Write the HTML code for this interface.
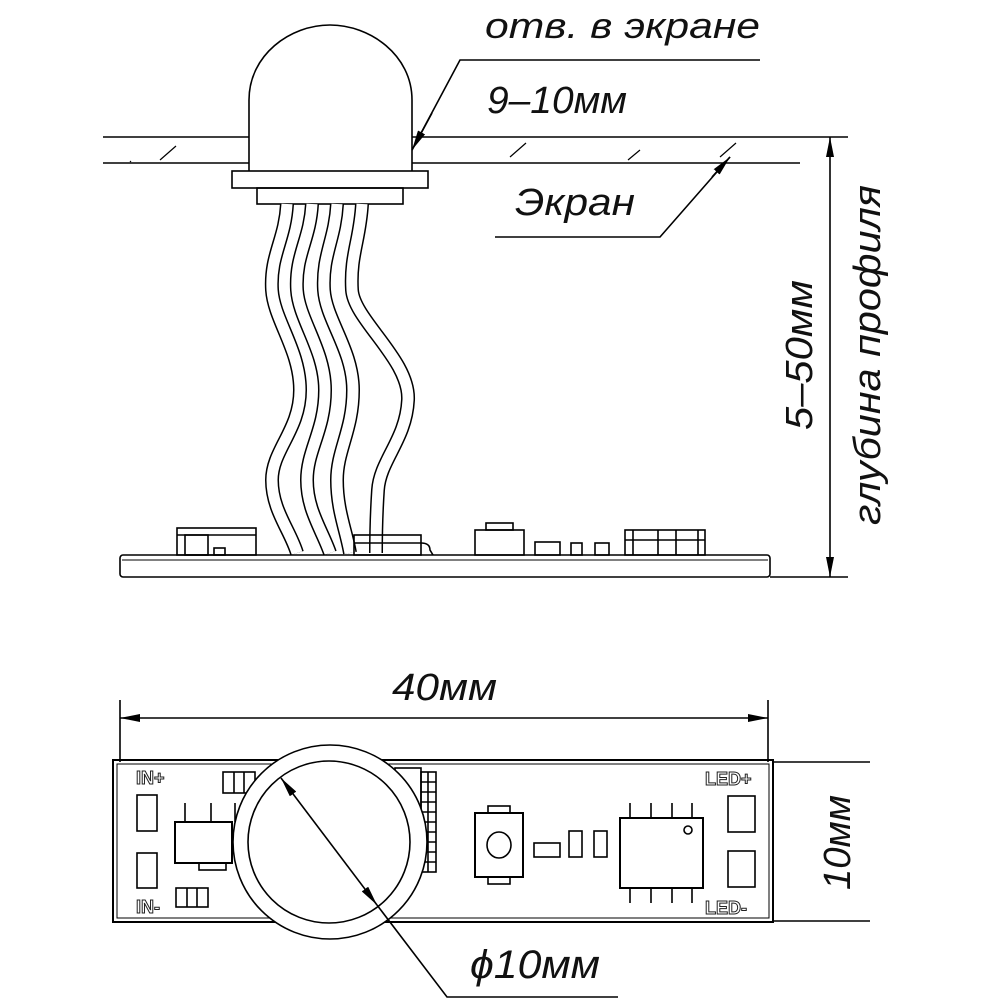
<!DOCTYPE html>
<html><head><meta charset="utf-8"><style>
html,body{margin:0;padding:0;background:#fff}
svg{display:block}
.t{font-family:"Liberation Sans",sans-serif;font-style:italic;fill:#111}
</style></head><body>
<svg width="1000" height="1000" viewBox="0 0 1000 1000" xmlns="http://www.w3.org/2000/svg">
<defs>
<marker id="a" viewBox="0 0 20 8" refX="20" refY="4" markerWidth="20" markerHeight="8" markerUnits="userSpaceOnUse" orient="auto-start-reverse"><path d="M0,0 L20,4 L0,8 z" fill="#000"/></marker>
</defs>
<g fill="none" stroke="#000" stroke-width="1.6">
<line x1="103" y1="137" x2="249" y2="137"/><line x1="412" y1="137" x2="800" y2="137"/>
<line x1="103" y1="163" x2="249" y2="163"/><line x1="412" y1="163" x2="800" y2="163"/>
<path d="M160,160 L176,146 M130,162 L131,161 M510,157 L526,143 M720,157 L736,143 M628,160 L640,150" stroke-width="1.2"/>
<path d="M249,171 L249,100 C249,55 290,25 330,25 C370,25 412,55 412,100 L412,171"/>
<rect x="232" y="171" width="196" height="17"/>
<rect x="257" y="188" width="146" height="16"/>
</g>
<g fill="none">
<g stroke="#000" stroke-width="14">
<path d="M287,204 C285,240 270,255 272,290 C274,320 300,350 300,390 C300,430 272,450 272,480 C272,510 290,530 297,553"/>
<path d="M312,204 C310,240 295,255 297,290 C299,320 325,350 325,390 C325,430 307,450 307,480 C307,510 322,530 330,553"/>
<path d="M337,204 C335,240 322,255 324,290 C326,320 353,350 353,390 C353,430 337,450 337,480 C337,510 346,530 350,553"/>
<path d="M362,204 C360,240 350,255 352,290 C354,320 410,360 408,400 C406,440 380,460 378,490 C376,520 376,535 376,553"/>
</g>
<g stroke="#fff" stroke-width="11">
<path d="M287,204 C285,240 270,255 272,290 C274,320 300,350 300,390 C300,430 272,450 272,480 C272,510 290,530 297,553"/>
<path d="M312,204 C310,240 295,255 297,290 C299,320 325,350 325,390 C325,430 307,450 307,480 C307,510 322,530 330,553"/>
<path d="M337,204 C335,240 322,255 324,290 C326,320 353,350 353,390 C353,430 337,450 337,480 C337,510 346,530 350,553"/>
<path d="M362,204 C360,240 350,255 352,290 C354,320 410,360 408,400 C406,440 380,460 378,490 C376,520 376,535 376,553"/>
</g>
</g>
<g fill="none" stroke="#000" stroke-width="1.6">
<rect x="120" y="555" width="650" height="22" rx="3"/>
<line x1="122" y1="560" x2="768" y2="560" stroke-width="1"/>
<line x1="770" y1="577" x2="848" y2="577"/>
<rect x="177" y="528" width="79" height="27"/><path d="M177,535 H256"/><rect x="185" y="535" width="23" height="20"/><rect x="214" y="548" width="11" height="7"/>
<rect x="354" y="535" width="67" height="20"/><line x1="354" y1="543" x2="421" y2="543"/><path d="M421,543 Q430,543 430,550 L433,555"/>
<rect x="475" y="530" width="49" height="25"/><rect x="486" y="523" width="27" height="7"/>
<rect x="535" y="542" width="25" height="13"/><rect x="571" y="543" width="11" height="12"/><rect x="595" y="543" width="14" height="12"/>
<rect x="625" y="530" width="80" height="25"/><path d="M633,530 V555 M658,530 V555 M676,530 V555 M698,530 V555 M625,540 H705"/>
<path d="M412,150 L460,60 L760,60"/>
<line x1="412" y1="150" x2="432" y2="113" marker-start="url(#a)"/>
<path d="M730,157 L660,237 L495,237"/>
<line x1="730" y1="157" x2="712" y2="177" marker-start="url(#a)"/>
<line x1="800" y1="137" x2="848" y2="137"/>
<line x1="830" y1="137" x2="830" y2="577" marker-start="url(#a)" marker-end="url(#a)"/>
<line x1="120" y1="700" x2="120" y2="762"/><line x1="768" y1="700" x2="768" y2="762"/>
<line x1="120" y1="718" x2="768" y2="718" marker-start="url(#a)" marker-end="url(#a)"/>
<line x1="772" y1="762" x2="870" y2="762"/><line x1="772" y1="921" x2="870" y2="921"/>
<rect x="113" y="760" width="660" height="162" stroke-width="2"/>
<rect x="117" y="764" width="652" height="154" stroke-width="1"/>
<rect x="137" y="795" width="20" height="36"/><rect x="137" y="853" width="20" height="35"/>
<rect x="728" y="796" width="27" height="36"/><rect x="728" y="851" width="27" height="36"/>
<rect x="223" y="772" width="32" height="21"/><path d="M234,772 V793 M244,772 V793"/>
<rect x="176" y="888" width="32" height="19"/><path d="M187,888 V907 M197,888 V907"/>
<rect x="175" y="822" width="57" height="41" stroke-width="2"/><path d="M185,822 V803 M211,822 V803 M235,822 V803"/><rect x="199" y="863" width="27" height="7"/>
<rect x="395" y="768" width="26" height="104"/>
<rect x="421" y="772" width="15" height="100"/>
<path d="M421,782 H436 M421,792 H436 M421,802 H436 M421,812 H436 M421,822 H436 M421,832 H436 M421,842 H436 M421,852 H436 M421,862 H436 M428,772 V872"/>
<rect x="475" y="813" width="48" height="64" stroke-width="2"/><rect x="488" y="806" width="22" height="7"/><rect x="488" y="877" width="22" height="7"/>
<ellipse cx="499" cy="845" rx="12" ry="13"/>
<rect x="534" y="843" width="26" height="14"/><rect x="569" y="831" width="13" height="26"/><rect x="594" y="831" width="13" height="26"/>
<rect x="620" y="818" width="83" height="70" stroke-width="2"/><circle cx="688" cy="830" r="4"/>
<path d="M630,818 V803 M651,818 V803 M672,818 V803 M692,818 V803 M630,888 V903 M651,888 V903 M672,888 V903 M692,888 V903"/>
</g>
<g fill="none" stroke="#000" stroke-width="1.6">
<circle cx="330" cy="842" r="97" fill="#fff"/>
<circle cx="329" cy="842" r="81"/>
<line x1="281" y1="778" x2="377" y2="905" marker-start="url(#a)" marker-end="url(#a)"/>
<path d="M377,905 L447,997 L618,997"/>
</g>
<text class="t" x="485" y="38" font-size="36" textLength="275" lengthAdjust="spacingAndGlyphs">отв. в экране</text>
<text class="t" x="487" y="113" font-size="38" textLength="140" lengthAdjust="spacingAndGlyphs">9–10мм</text>
<text class="t" x="515" y="215" font-size="38" textLength="120" lengthAdjust="spacingAndGlyphs">Экран</text>
<text class="t" font-size="38" textLength="150" lengthAdjust="spacingAndGlyphs" transform="translate(812,430) rotate(-90)">5–50мм</text>
<text class="t" font-size="38" textLength="340" lengthAdjust="spacingAndGlyphs" transform="translate(880,525) rotate(-90)">глубина профиля</text>
<text class="t" x="392" y="700" font-size="38" textLength="105" lengthAdjust="spacingAndGlyphs">40мм</text>
<text class="t" font-size="38" textLength="95" lengthAdjust="spacingAndGlyphs" transform="translate(850,890) rotate(-90)">10мм</text>
<text class="t" x="470" y="978" font-size="40" textLength="130" lengthAdjust="spacingAndGlyphs">ϕ10мм</text>
<g font-family="Liberation Sans,sans-serif" font-weight="bold" fill="#fff" stroke="#222" stroke-width="1" font-size="18">
<text x="136" y="784">IN+</text><text x="136" y="913">IN-</text>
<text x="705" y="785">LED+</text><text x="705" y="914">LED-</text>
</g>
</svg>
</body></html>
